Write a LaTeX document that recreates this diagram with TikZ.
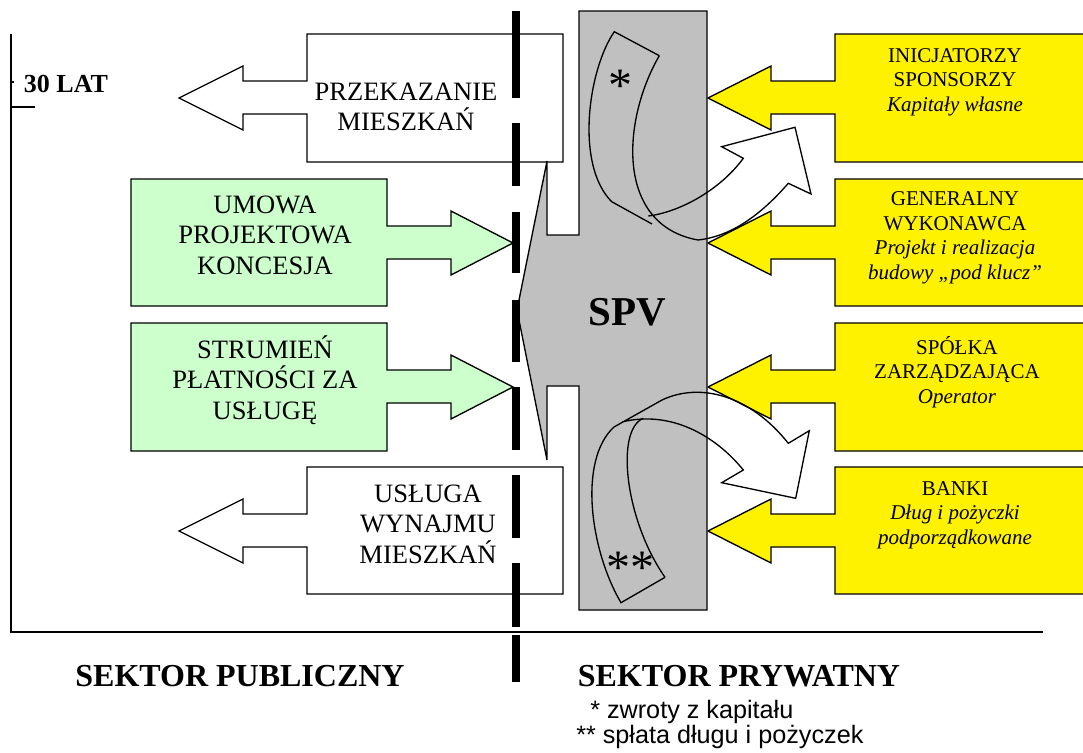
\documentclass[tikz,border=0pt]{standalone}
\usepackage{fontspec}
\setmainfont{Liberation Serif}
\newfontfamily\notefont{Liberation Sans}
\usetikzlibrary{positioning}

\definecolor{mint}{RGB}{204,255,204}
\definecolor{spvgray}{RGB}{192,192,192}

\begin{document}
\begin{tikzpicture}[x=0.75pt,y=-0.75pt]
	\tikzstyle{Frame}	= [line width=1pt]
	\tikzstyle{Block}	= [draw, line width=1pt, line join=miter]
	\tikzstyle{Public}	= [Block, fill=white]
	\tikzstyle{Contract}	= [Block, fill=mint]
	\tikzstyle{Partner}	= [Block, fill=yellow]
	\tikzstyle{Vehicle}	= [Block, fill=spvgray]
	\tikzstyle{Ribbon}	= [line width=1pt, line join=miter]
	\tikzstyle{Divider}	= [line width=6pt]
	\tikzstyle{BoxText}	= [align=center, inner sep=0pt, font={\fontsize{19.9}{22.9}\selectfont}]
	\tikzstyle{SideText}	= [align=center, inner sep=0pt, font={\fontsize{15.75}{18.4}\selectfont}]
	\tikzstyle{Sector}	= [inner sep=0pt, font={\fontsize{24}{26}\selectfont\bfseries}]
	\tikzstyle{Note}	= [inner sep=0pt, anchor=west, font={\fontsize{18.9}{20}\notefont}]
	\tikzstyle{Star}	= [inner sep=0pt, font={\fontsize{36}{36}\selectfont}]

	\useasboundingbox (0,0) rectangle (1083,753);

	% time axis and frame
	\draw [Frame] (11,34) -- (11,632) -- (1043,632);
	\draw [Frame] (11,107) -- (35,107);
	\draw [Frame] (11,82) -- (14,82);
	\node (lat) at (66,84) [inner sep=0pt, font={\fontsize{19.5}{20}\selectfont\bfseries}] {30 LAT};

	% public sector arrows
	\draw [Public] (563,34) -- (307,34) -- (307,81) -- (243,81) -- (243,66) -- (179,98) -- (243,130) -- (243,114) -- (307,114) -- (307,162) -- (563,162) -- cycle;
	\draw [Public] (563,467) -- (307,467) -- (307,514) -- (243,514) -- (243,499) -- (179,531) -- (243,563) -- (243,547) -- (307,547) -- (307,594) -- (563,594) -- cycle;
	\draw [Contract] (131,179) -- (387,179) -- (387,226) -- (451,226) -- (451,211) -- (513,243) -- (451,275) -- (451,259) -- (387,259) -- (387,306) -- (131,306) -- cycle;
	\draw [Contract] (131,323) -- (387,323) -- (387,370) -- (451,370) -- (451,355) -- (513,387) -- (451,419) -- (451,403) -- (387,403) -- (387,451) -- (131,451) -- cycle;

	% private sector arrows
	\draw [Partner] (1100,34) -- (835,34) -- (835,81) -- (771,81) -- (771,66) -- (708,98) -- (771,130) -- (771,114) -- (835,114) -- (835,162) -- (1100,162);
	\draw [Partner] (1100,179) -- (835,179) -- (835,226) -- (771,226) -- (771,211) -- (708,243) -- (771,275) -- (771,259) -- (835,259) -- (835,306) -- (1100,306);
	\draw [Partner] (1100,323) -- (835,323) -- (835,370) -- (771,370) -- (771,355) -- (708,387) -- (771,419) -- (771,403) -- (835,403) -- (835,451) -- (1100,451);
	\draw [Partner] (1100,467) -- (835,467) -- (835,514) -- (771,514) -- (771,499) -- (708,531) -- (771,563) -- (771,547) -- (835,547) -- (835,594) -- (1100,594);

	% SPV
	\draw [Vehicle] (579,11) -- (707,11) -- (707,610) -- (579,610) -- (579,386) -- (547,386) -- (547,460) -- (517,310) -- (547,161) -- (547,235) -- (579,235) -- cycle;

	% curved arrows
	\draw [Ribbon] (659.3,55.7) -- (614.3,31.7) .. controls (588,70) and (575,165) .. (611.7,201.7) -- (652,224);
	\draw [Ribbon] (659.3,55.7) .. controls (622,120) and (615,225) .. (698,240) .. controls (735,236) and (765,210) .. (788.3,183.3) -- (811,194) -- (795,127.3) -- (721.7,146.7) -- (743.3,158.3) .. controls (720,190) and (680,212) .. (648.3,216);
	\draw [Ribbon] (665,577.3) -- (621,602.7) .. controls (590,550) and (578,460) .. (614,427) -- (662,400) .. controls (700,382) and (750,395) .. (788.3,443.3) -- (809.3,430.7) -- (795.7,498.3) -- (721.7,482.7) -- (743.3,470) .. controls (715,435) and (670,410) .. (622,422);
	\draw [Ribbon] (665,577.3) .. controls (625,520) and (615,430) .. (643.3,418.3);
	\node (returns) at (620,86) [Star] {*};
	\node (repay) at (630,568) [Star] {**};

	% texts
	\node (handover) at (406,107) [BoxText] {PRZEKAZANIE\\MIESZKAŃ};
	\node (rental) at (428,524) [BoxText] {USŁUGA\\WYNAJMU\\MIESZKAŃ};
	\node (contract) at (265,235) [BoxText] {UMOWA\\PROJEKTOWA\\KONCESJA};
	\node (payment) at (265,380) [BoxText] {STRUMIEŃ\\PŁATNOŚCI ZA\\USŁUGĘ};
	\node (spv) at (627,312) [inner sep=0pt, font={\fontsize{30.75}{32}\selectfont\bfseries}] {SPV};
	\node (sponsors) at (955,82) [SideText] {INICJATORZY\\SPONSORZY\\\textit{Kapitały własne}};
	\node (contractor) at (955,238) [SideText] {GENERALNY\\WYKONAWCA\\\textit{Projekt i realizacja}\\\textit{budowy „pod klucz”}};
	\node (operator) at (957,372) [SideText] {SPÓŁKA\\ZARZĄDZAJĄCA\\\textit{Operator}};
	\node (banks) at (955,515) [SideText] {BANKI\\\textit{Dług i pożyczki}\\\textit{podporządkowane}};

	% sectors and legend
	\node (public) at (240,676) [Sector] {SEKTOR PUBLICZNY};
	\node (private) at (739,676) [Sector] {SEKTOR PRYWATNY};
	\node (note1) at (590,712) [Note] {* zwroty z kapitału};
	\node (note2) at (576,737) [Note] {** spłata długu i pożyczek};

	% border between sectors
	\draw [Divider] (515.5,11) -- (515.5,98) (515.5,123) -- (515.5,186) (515.5,212) -- (515.5,273) (515.5,300) -- (515.5,362) (515.5,387) -- (515.5,450) (515.5,475) -- (515.5,538) (515.5,563) -- (515.5,627) (515.5,635) -- (515.5,682);
\end{tikzpicture}
\end{document}
